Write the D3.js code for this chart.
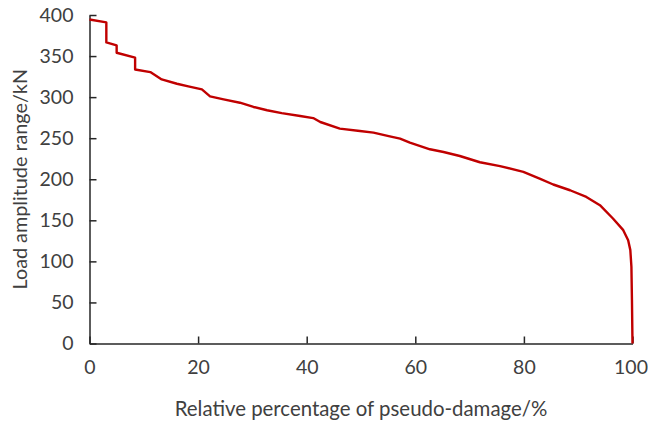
<!DOCTYPE html>
<html>
<head>
<meta charset="utf-8">
<script src="https://cdn.jsdelivr.net/npm/d3@7/dist/d3.min.js"></script>
<style>
  html, body { margin: 0; padding: 0; background: #fff; }
  svg text { font-family: Lato, "Open Sans", sans-serif; fill: #404040; }
</style>
</head>
<body>
<svg id="chart" width="648" height="421"></svg>
<script>
// Cumulative pseudo-damage share (%) against load amplitude range (kN)
const damagePct = [0, 3.1, 3.1, 5.0, 5.0, 8.4, 8.4, 11.2, 13.3, 16.1, 18.2, 20.7, 22.2, 24.7,
  27.7, 30.2, 32.7, 35.4, 38.8, 41.2, 42.5, 46.1, 49.8, 52.3, 55.3, 57.2, 59.0, 62.7, 65.2,
  68.2, 71.9, 75.6, 79.9, 82.9, 85.4, 88.5, 91.5, 94.0, 96.4, 98.3, 99.2, 99.6, 99.8, 99.9, 100];
const loadRange = [394.5, 391, 366.6, 363, 354, 348, 333.7, 330.5, 321.6, 316.3, 313, 309.4, 301, 297.3,
  293.2, 288, 284, 280.5, 277, 274.5, 269.7, 261.6, 258.7, 256.8, 252.3, 249.5, 244.6, 236.5, 233.2,
  228.3, 220.7, 216, 208.9, 200.8, 193.6, 186.6, 178.5, 168.4, 152.2, 138, 125.8, 113.7, 93.4, 52.9, 0];
const xTicks = [0, 20, 40, 60, 80, 100];
const yTicks = [0, 50, 100, 150, 200, 250, 300, 350, 400];
const xTitle = "Relative percentage of pseudo-damage/%";
const yTitle = "Load amplitude range/kN";

const svg = d3.select("#chart");
const x = d3.scaleLinear().domain([0, 100]).range([89.5, 632.5]);
const y = d3.scaleLinear().domain([0, 400]).range([343.5, 15]);

const axisColor = "#262626";

const gx = svg.append("g").attr("transform", `translate(0,${y(0)})`)
  .call(d3.axisBottom(x).tickValues(xTicks).tickSizeInner(-7).tickSizeOuter(0).tickPadding(17));
const gy = svg.append("g").attr("transform", `translate(${x(0)},0)`)
  .call(d3.axisLeft(y).tickValues(yTicks).tickSizeInner(-7).tickSizeOuter(0).tickPadding(16));

[gx, gy].forEach(g => {
  g.select(".domain").attr("stroke", axisColor).attr("stroke-width", 1.5);
  g.selectAll(".tick line").attr("stroke", axisColor).attr("stroke-width", 1.5);
  g.selectAll(".tick text").style("font-size", "19.5px").attr("fill", "#404040");
});
// keep the last x label inside the canvas
gx.selectAll(".tick text").filter(d => d === 100).attr("text-anchor", "end").attr("x", 15);

const line = d3.line().x((d, i) => x(damagePct[i])).y(d => y(d)).curve(d3.curveLinear);
svg.append("path").datum(loadRange)
  .attr("d", line)
  .attr("fill", "none")
  .attr("stroke", "#C00000")
  .attr("stroke-width", 2.4)
  .attr("stroke-linejoin", "round");

svg.append("text").attr("x", 361).attr("y", 416)
  .attr("text-anchor", "middle").style("font-size", "20.4px").text(xTitle);
svg.append("text").attr("transform", `translate(27,${(y(0) + y(400)) / 2}) rotate(-90)`)
  .attr("text-anchor", "middle").style("font-size", "19.8px").text(yTitle);
</script>
</body>
</html>
